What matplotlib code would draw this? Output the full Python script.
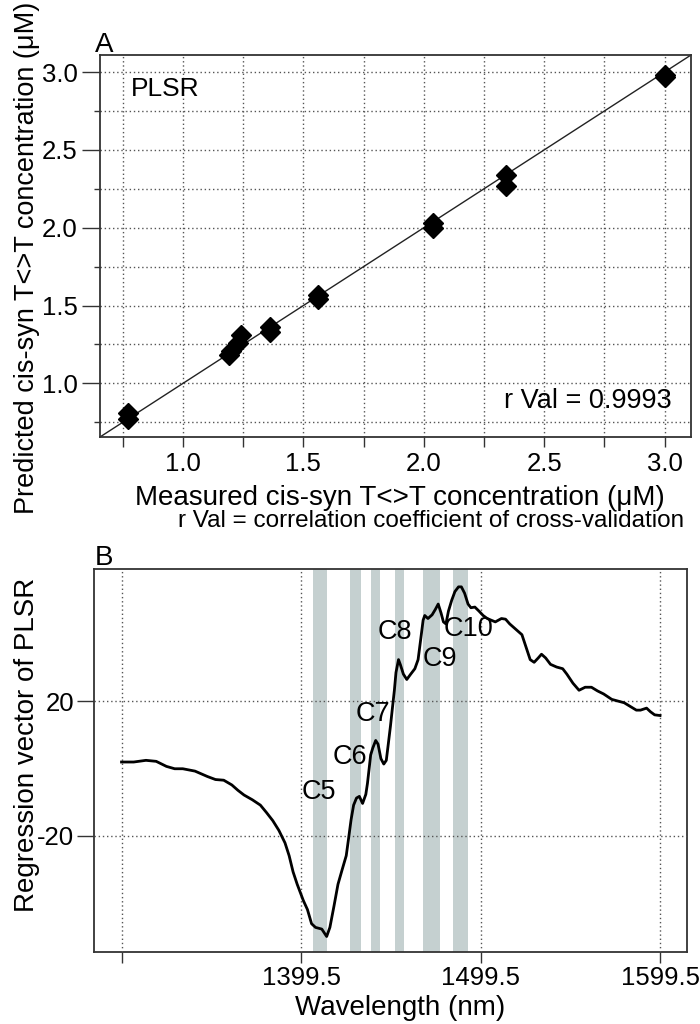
import matplotlib
matplotlib.use("Agg")
import matplotlib.pyplot as plt
import numpy as np

plt.rcParams['font.family'] = ['Liberation Sans', 'DejaVu Sans']

# ---- Panel A data ----
measured = [0.77, 0.77, 1.19, 1.20, 1.23, 1.24, 1.36, 1.36, 1.56, 1.56, 2.04, 2.04, 2.34, 2.34, 3.00, 3.00]
predicted = [0.81, 0.77, 1.18, 1.21, 1.26, 1.31, 1.33, 1.36, 1.54, 1.57, 2.00, 2.03, 2.27, 2.34, 2.97, 2.98]
a_ticks = [1.0, 1.5, 2.0, 2.5, 3.0]
a_minor = [0.75, 1.0, 1.25, 1.5, 1.75, 2.0, 2.25, 2.5, 2.75, 3.0]
a_lim = (0.655, 3.11)

# ---- Panel B data ----
wavelength = [1299.5, 1306.3, 1313.1, 1318.8, 1324.5, 1329.1, 1333.6, 1340.4, 1347.3, 1351.8,
              1356.4, 1360.9, 1364.3, 1367.7, 1372.3, 1376.8, 1380.2, 1383.7, 1387.1, 1390.5,
              1392.8, 1395.0, 1397.3, 1400.7, 1403.0, 1405.3, 1407.5, 1411.0, 1413.7, 1415.5,
              1417.8, 1420.0, 1422.3, 1424.6, 1425.7, 1427.3, 1428.7, 1430.3, 1431.9, 1433.7,
              1435.5, 1436.4, 1437.3, 1438.2, 1439.4, 1441.0, 1442.3, 1443.9, 1445.5, 1446.9,
              1448.0, 1449.2, 1450.3, 1451.4, 1452.3, 1453.7, 1454.8, 1456.4, 1458.3, 1460.5,
              1462.8, 1464.6, 1466.0, 1467.4, 1468.3, 1470.1, 1472.4, 1474.2, 1475.8, 1477.4,
              1478.7, 1480.1, 1481.5, 1483.3, 1485.1, 1487.1, 1488.7, 1490.5, 1492.4, 1494.0,
              1496.2, 1498.5, 1500.8, 1503.1, 1505.3, 1507.6, 1511.0, 1513.3, 1515.6, 1519.0,
              1522.4, 1524.7, 1527.0, 1529.2, 1531.5, 1533.3, 1535.6, 1538.3, 1541.7, 1545.1,
              1547.4, 1550.8, 1554.2, 1557.6, 1561.1, 1564.5, 1567.9, 1572.4, 1575.8, 1579.3,
              1582.7, 1586.1, 1588.4, 1591.8, 1594.0, 1596.3, 1599.3]
regvec = [1.9, 1.9, 2.4, 2.1, 0.6, -0.1, -0.1, -0.8, -2.4, -3.3,
          -3.5, -4.9, -6.5, -7.9, -9.3, -10.9, -13.1, -15.5, -18.4, -22.1,
          -25.9, -30.7, -34.4, -39.2, -41.9, -46.1, -47.2, -47.7, -49.9, -47.2,
          -40.8, -34.4, -30.1, -25.9, -21.6, -15.2, -10.9, -8.8, -8.3, -10.4,
          -7.7, -4.5, -0.3, 4.0, 6.1, 8.3, 7.2, 2.9, 1.3, 2.4,
          7.2, 12.5, 17.9, 23.2, 28.5, 32.3, 30.7, 28.0, 26.4, 28.0,
          29.6, 32.3, 38.1, 44.0, 45.4, 44.5, 45.6, 47.2, 48.8, 46.1,
          43.5, 42.9, 46.7, 49.9, 52.5, 53.9, 53.9, 52.0, 48.8, 47.7,
          47.9, 46.7, 45.4, 44.5, 44.0, 43.5, 44.5, 44.3, 42.9, 41.3,
          39.7, 36.0, 32.3, 31.5, 32.8, 33.9, 32.8, 30.9, 30.1, 29.6,
          28.0, 25.3, 23.2, 24.1, 24.1, 23.0, 22.1, 20.5, 20.0, 19.5,
          18.4, 17.3, 17.3, 17.9, 16.8, 15.9, 15.7]
band_start = [1405.9, 1426.9, 1438.2, 1451.9, 1467.4, 1484.2]
band_end = [1413.7, 1432.8, 1443.2, 1456.9, 1476.9, 1492.4]
band_labels = ['C5', 'C6', 'C7', 'C8', 'C9', 'C10']
label_x = [1409.1, 1426.4, 1439.4, 1451.9, 1476.5, 1492.4]
label_y = [-6.9, 3.5, 16.3, 40.5, 32.5, 41.5]
b_xticks = [1299.5, 1399.5, 1499.5, 1599.5]
b_xticklabels = ['', '1399.5', '1499.5', '1599.5']
b_yticks = [-20, 20]
b_xlim = (1283.9, 1614.3)
b_ylim = (-54.5, 59.2)

W, H = 700, 1024
fig = plt.figure(figsize=(W / 100, H / 100), dpi=100)

def fx(px):
    return px / W

def fy(py):
    return 1 - py / H

grid_kw = dict(color='#555555', linestyle=(0, (1, 2)), linewidth=1.0)
spine_color = '#333333'

# ---------------- Panel A ----------------
axA = fig.add_axes([fx(100), fy(437), fx(691) - fx(100), fy(55) - fy(437)])
axA.set_xlim(a_lim)
axA.set_ylim(a_lim)
axA.plot(a_lim, a_lim, color='#222222', linewidth=1.0, zorder=2)
axA.plot(measured, predicted, linestyle='none', marker='D', markersize=10.5,
         color='black', zorder=3)
axA.set_xticks(a_ticks)
axA.set_yticks(a_ticks)
axA.set_xticks(a_minor, minor=True)
axA.set_yticks(a_minor, minor=True)
axA.set_xticklabels([f'{v:.1f}' for v in a_ticks])
axA.set_yticklabels([f'{v:.1f}' for v in a_ticks])
axA.grid(True, which='both', **grid_kw)
axA.tick_params(axis='both', which='major', labelsize=18.5, direction='out',
                length=7, width=1.0, color=spine_color, pad=4)
axA.tick_params(axis='x', which='minor', direction='out', length=7, width=1.0, color=spine_color)
axA.tick_params(axis='y', which='minor', direction='out', length=4, width=1.0, color=spine_color)
axA.tick_params(axis='y', which='major', length=13, pad=3)
for s in axA.spines.values():
    s.set_color(spine_color)
    s.set_linewidth(1.3)
axA.set_axisbelow(True)
axA.text(0.052, 0.893, 'PLSR', transform=axA.transAxes, fontsize=19,
         ha='left', va='baseline')
axA.text(0.968, 0.077, 'r Val = 0.9993', transform=axA.transAxes, fontsize=19.5,
         ha='right', va='baseline')
fig.text(fx(95), fy(52), 'A', fontsize=20, ha='left', va='baseline')
fig.text(fx(400), fy(505), 'Measured cis-syn T<>T concentration (\u03bcM)',
         fontsize=20, ha='center', va='baseline')
fig.text(fx(684), fy(527), 'r Val = correlation coefficient of cross-validation',
         fontsize=17.5, ha='right', va='baseline')
fig.text(fx(27), fy(258), 'Predicted cis-syn T<>T concentration (\u03bcM)',
         fontsize=19.5, rotation=90, ha='center', va='center')

# ---------------- Panel B ----------------
axB = fig.add_axes([fx(93.5), fy(952), fx(687) - fx(93.5), fy(569) - fy(952)])
axB.set_xlim(b_xlim)
axB.set_ylim(b_ylim)
for s0, s1 in zip(band_start, band_end):
    axB.axvspan(s0, s1, color='#c5d0d0', linewidth=0, zorder=1)
axB.plot(wavelength, regvec, color='black', linewidth=2.0, zorder=3)
for lab, lx, ly in zip(band_labels, label_x, label_y):
    axB.text(lx, ly, lab, fontsize=19.5, ha='center', va='center', zorder=4)
axB.set_xticks(b_xticks)
axB.set_xticklabels(b_xticklabels)
axB.set_yticks(b_yticks)
axB.set_yticklabels([str(v) for v in b_yticks])
axB.grid(True, **grid_kw)
axB.set_axisbelow(False)
for gl in axB.get_xgridlines() + axB.get_ygridlines():
    gl.set_zorder(2)
axB.tick_params(axis='x', labelsize=18.5, direction='out', length=8, width=1.0,
                color=spine_color, pad=2)
axB.tick_params(axis='y', labelsize=18.5, direction='out', length=12, width=1.0,
                color=spine_color, pad=2)
for s in axB.spines.values():
    s.set_color(spine_color)
    s.set_linewidth(1.3)
fig.text(fx(95), fy(565), 'B', fontsize=20, ha='left', va='baseline')
fig.text(fx(400), fy(1015), 'Wavelength (nm)', fontsize=20, ha='center', va='baseline')
fig.text(fx(27), fy(745), 'Regression vector of PLSR', fontsize=20, rotation=90,
         ha='center', va='center')

fig.savefig('out.png', dpi=100, facecolor='white')
